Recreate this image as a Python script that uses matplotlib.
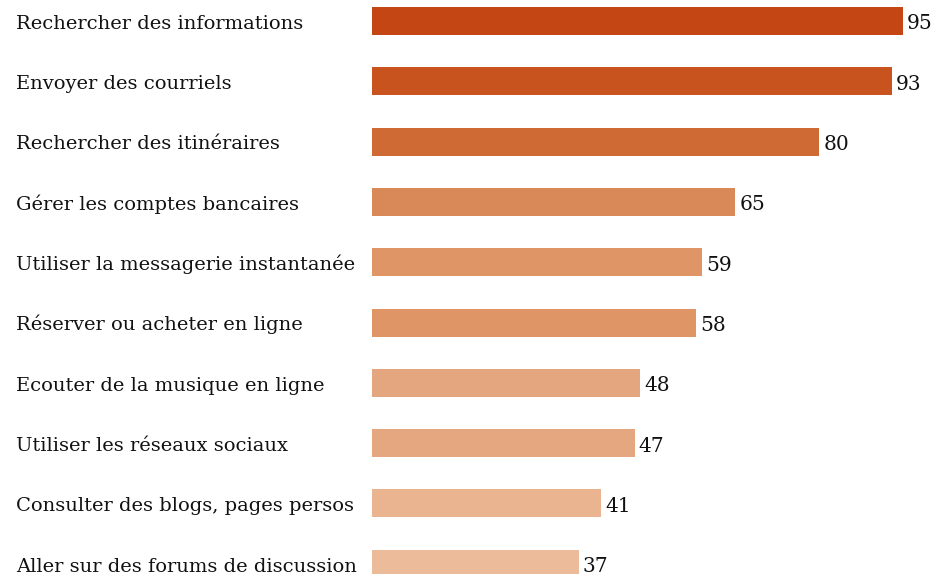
import matplotlib
matplotlib.use("Agg")
import matplotlib.pyplot as plt
from matplotlib.transforms import blended_transform_factory

categories = [
    "Rechercher des informations",
    "Envoyer des courriels",
    "Rechercher des itinéraires",
    "Gérer les comptes bancaires",
    "Utiliser la messagerie instantanée",
    "Réserver ou acheter en ligne",
    "Ecouter de la musique en ligne",
    "Utiliser les réseaux sociaux",
    "Consulter des blogs, pages persos",
    "Aller sur des forums de discussion",
]
values = [95, 93, 80, 65, 59, 58, 48, 47, 41, 37]
colors = ["#C44615", "#C8531E", "#D06A35", "#D98858", "#DF9566",
          "#DF9566", "#E4A67E", "#E5A77F", "#E9B48F", "#EBBB9A"]

FONT = "DejaVu Serif"
FS = 14

fig = plt.figure(figsize=(9.34, 5.74), dpi=100)
ax = fig.add_axes([372 / 934, 0, 1 - 372 / 934, 1])
y = list(range(len(values)))
ax.barh(y, values, height=0.464, color=colors)
ax.set_xlim(0, 100.5)
ax.set_ylim(9.17, -0.348)
ax.axis("off")

trans = blended_transform_factory(fig.transFigure, ax.transData)
for yi, cat in zip(y, categories):
    ax.text(16 / 934, yi + 0.13, cat, transform=trans, ha="left", va="baseline",
            fontsize=FS, family=FONT, color="#111111", clip_on=False)

for yi, v in zip(y, values):
    ax.annotate(str(v), xy=(v, yi + 0.14), xytext=(4, 0), textcoords="offset pixels",
                ha="left", va="baseline", fontsize=FS + 0.5, family=FONT,
                color="#111111", annotation_clip=False)

fig.savefig("out.png", dpi=100)
